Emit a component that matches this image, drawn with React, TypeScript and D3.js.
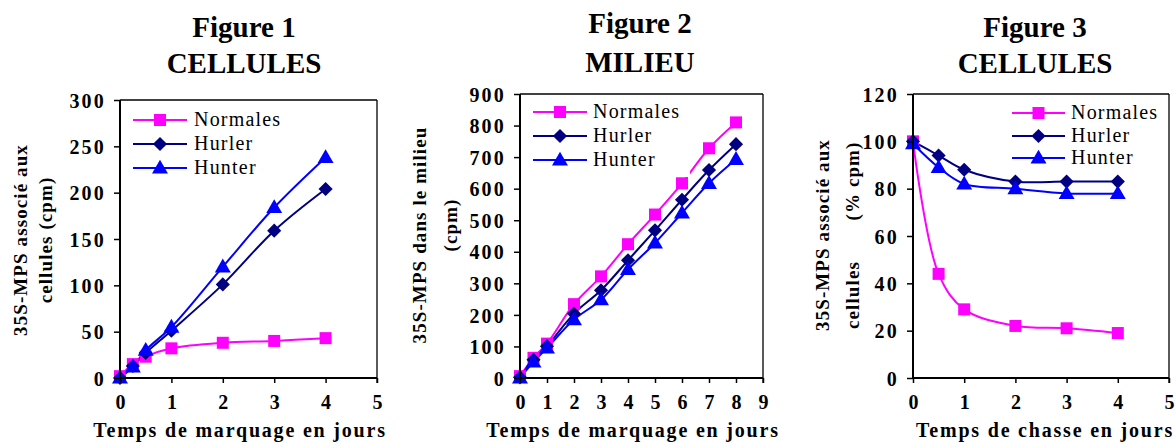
// @ts-nocheck

import React from 'react'
import * as d3 from 'd3'

// Figure 1 - cellules
const fig1Days = [0, 0.25, 0.5, 1, 2, 3, 4]
const fig1Normales = [2, 15, 23, 32, 38, 40, 43]
const fig1Hurler = [0, 13, 27, 51, 101, 159, 204]
const fig1Hunter = [0, 12, 30, 55, 120, 184, 238]

// Figure 2 - milieu
const fig2Days = [0, 0.5, 1, 2, 3, 4, 5, 6, 7, 8]
const fig2Normales = [6, 64, 109, 234, 322, 424, 518, 617, 728, 810]
const fig2Hurler = [2, 58, 101, 204, 278, 373, 468, 565, 659, 741]
const fig2Hunter = [0, 51, 95, 185, 248, 344, 428, 523, 617, 693]

// Figure 3 - chasse
const fig3Days = [0, 0.5, 1, 2, 3, 4]
const fig3Normales = [100, 44, 29, 22, 21, 19]
const fig3Hurler = [100, 94, 88, 83, 83, 83]
const fig3Hunter = [99, 89, 82, 80, 78, 78]

const seriesNames = ['Normales', 'Hurler', 'Hunter']
const seriesColors = ['#ff00ff', '#000080', '#0000ff']

const fig1YTicks = [0, 50, 100, 150, 200, 250, 300]
const fig2YTicks = [0, 100, 200, 300, 400, 500, 600, 700, 800, 900]
const fig3YTicks = [0, 20, 40, 60, 80, 100, 120]
const fig1XTicks = [0, 1, 2, 3, 4, 5]
const fig2XTicks = [0, 1, 2, 3, 4, 5, 6, 7, 8, 9]
const fig3XTicks = [0, 1, 2, 3, 4, 5]

const FONT = 'Liberation Serif'

const charts = [
  {
    titles: ['Figure 1', 'CELLULES'],
    titleX: 244,
    titleY: [37, 73],
    box: { left: 120, right: 377, top: 100, bottom: 378 },
    days: fig1Days,
    values: [fig1Normales, fig1Hurler, fig1Hunter],
    xTicks: fig1XTicks,
    yTicks: fig1YTicks,
    xTitle: 'Temps de marquage en jours',
    xTitleX: 240,
    yTitles: [
      { text: '35S-MPS associé aux', x: 20, y: 240 },
      { text: 'cellules (cpm)', x: 45, y: 240 },
    ],
    legend: { x1: 133, x2: 187, tx: 194, rows: [120, 144, 168], rect: [121, 101, 170, 84] },
  },
  {
    titles: ['Figure 2', 'MILIEU'],
    titleX: 640,
    titleY: [33, 72],
    box: { left: 520, right: 763, top: 94, bottom: 378 },
    days: fig2Days,
    values: [fig2Normales, fig2Hurler, fig2Hunter],
    xTicks: fig2XTicks,
    yTicks: fig2YTicks,
    xTitle: 'Temps de marquage en jours',
    xTitleX: 633,
    yTitles: [
      { text: '35S-MPS dans le milieu', x: 419, y: 235 },
      { text: '(cpm)', x: 450, y: 225 },
    ],
    legend: { x1: 533, x2: 587, tx: 593, rows: [112, 136, 160], rect: [521, 95, 169, 82] },
  },
  {
    titles: ['Figure 3', 'CELLULES'],
    titleX: 1035,
    titleY: [37, 73],
    box: { left: 913, right: 1169, top: 94, bottom: 378 },
    days: fig3Days,
    values: [fig3Normales, fig3Hurler, fig3Hunter],
    xTicks: fig3XTicks,
    yTicks: fig3YTicks,
    xTitle: 'Temps de chasse en jours',
    xTitleX: 1045,
    yTitles: [
      { text: '35S-MPS associé aux', x: 822, y: 235 },
      { text: '(% cpm)', x: 852, y: 181 },
      { text: 'cellules', x: 852, y: 295 },
    ],
    legend: { x1: 1012, x2: 1065, tx: 1071, rows: [113, 136, 158], rect: [1000, 95, 168, 75] },
  },
]

// helper: serif text, spacing given in px through css style
const styleText = (sel, size, bold, spacing) =>
  sel
    .style('font-family', FONT)
    .style('font-size', `${size}px`)
    .style('font-weight', bold ? 'bold' : 'normal')
    .style('letter-spacing', `${spacing}px`)

const drawMarker = (g, i, x, y, color) => {
  if (i === 0) {
    g.append('rect')
      .attr('x', x - 6)
      .attr('y', y - 6)
      .attr('width', 12)
      .attr('height', 12)
      .attr('fill', color)
  } else if (i === 1) {
    g.append('rect')
      .attr('x', -5)
      .attr('y', -5)
      .attr('width', 10)
      .attr('height', 10)
      .attr('fill', color)
      .attr('transform', `translate(${x},${y}) rotate(45)`)
  } else {
    g.append('path')
      .attr('d', d3.symbol().type(d3.symbolTriangle).size(110)())
      .attr('fill', color)
      .attr('transform', `translate(${x},${y + 1})`)
  }
}

const App = () => {
  const svgRef = React.useRef(null)

  React.useEffect(() => {
    const svg = d3.select(svgRef.current)
    svg.selectAll('*').remove()

    charts.forEach((c) => {
      const { left, right, top, bottom } = c.box
      const xScale = d3.scaleLinear().domain([0, c.xTicks[c.xTicks.length - 1]]).range([left, right])
      const yScale = d3.scaleLinear().domain([0, c.yTicks[c.yTicks.length - 1]]).range([bottom, top])
      const g = svg.append('g')

      // titles
      c.titles.forEach((t, k) => {
        styleText(
          g.append('text').attr('x', c.titleX).attr('y', c.titleY[k]).attr('text-anchor', 'middle'),
          29,
          true,
          0,
        ).text(t)
      })

      // lines + markers
      const line = d3
        .line()
        .x((d) => xScale(d[0]))
        .y((d) => yScale(d[1]))
        .curve(d3.curveCatmullRom.alpha(0.5))

      c.values.forEach((vals, i) => {
        const pts = c.days.map((d, k) => [d, vals[k]])
        g.append('path')
          .attr('d', line(pts))
          .attr('fill', 'none')
          .attr('stroke', seriesColors[i])
          .attr('stroke-width', 2)
      })
      c.values.forEach((vals, i) => {
        c.days.forEach((d, k) => drawMarker(g, i, xScale(d), yScale(vals[k]), seriesColors[i]))
      })

      // legend
      const [rx, ry, rw, rh] = c.legend.rect
      g.append('rect').attr('x', rx).attr('y', ry).attr('width', rw).attr('height', rh).attr('fill', '#fff')
      seriesNames.forEach((name, i) => {
        const yy = c.legend.rows[i]
        g.append('line')
          .attr('x1', c.legend.x1)
          .attr('x2', c.legend.x2)
          .attr('y1', yy)
          .attr('y2', yy)
          .attr('stroke', seriesColors[i])
          .attr('stroke-width', 2)
        drawMarker(g, i, (c.legend.x1 + c.legend.x2) / 2, yy, seriesColors[i])
        styleText(g.append('text').attr('x', c.legend.tx).attr('y', yy + 6), 20, false, 1.2).text(name)
      })

      // frame
      g.append('line').attr('x1', left).attr('x2', right).attr('y1', top).attr('y2', top).attr('stroke', '#000').attr('stroke-width', 1.3)
      g.append('line').attr('x1', right).attr('x2', right).attr('y1', top).attr('y2', bottom + 5).attr('stroke', '#000').attr('stroke-width', 1.3)

      // y axis
      const yAxis = d3.axisLeft(yScale).tickValues(c.yTicks).tickSize(6).tickPadding(8).tickFormat((v) => `${v}`)
      const yAxisGroup = g.append('g').attr('transform', `translate(${left},0)`).call(yAxis)
      yAxisGroup.attr('font-family', null).attr('font-size', null)
      yAxisGroup.select('.domain').attr('stroke-width', 2).attr('d', `M0,${top}V${bottom}`)
      yAxisGroup.selectAll('line').attr('stroke-width', 1.5)
      styleText(yAxisGroup.selectAll('text'), 20, true, 2.2).attr('dy', '0.36em')

      // x axis
      const xAxis = d3.axisBottom(xScale).tickValues(c.xTicks).tickSize(5).tickPadding(20).tickFormat((v) => `${v}`)
      const xAxisGroup = g.append('g').attr('transform', `translate(0,${bottom})`).call(xAxis)
      xAxisGroup.attr('font-family', null).attr('font-size', null)
      xAxisGroup.select('.domain').attr('stroke-width', 2).attr('d', `M${left - 1},0H${right}`)
      xAxisGroup.selectAll('line').attr('stroke-width', 1.5)
      styleText(xAxisGroup.selectAll('text'), 20, true, 0).attr('dy', '0.3em')

      // axis titles
      styleText(
        g.append('text').attr('x', c.xTitleX).attr('y', 437).attr('text-anchor', 'middle'),
        20,
        true,
        1.8,
      ).text(c.xTitle)

      c.yTitles.forEach((t) => {
        styleText(
          g
            .append('text')
            .attr('transform', `translate(${t.x},${t.y}) rotate(-90)`)
            .attr('text-anchor', 'middle')
            .attr('dominant-baseline', 'central'),
          19,
          true,
          1.1,
        ).text(t.text)
      })
    })
  }, [])

  return (
    <div style={{ position: 'absolute', left: 0, top: 0, background: '#fff' }}>
      <svg ref={svgRef} width={1175} height={443} />
    </div>
  )
}

export default App
